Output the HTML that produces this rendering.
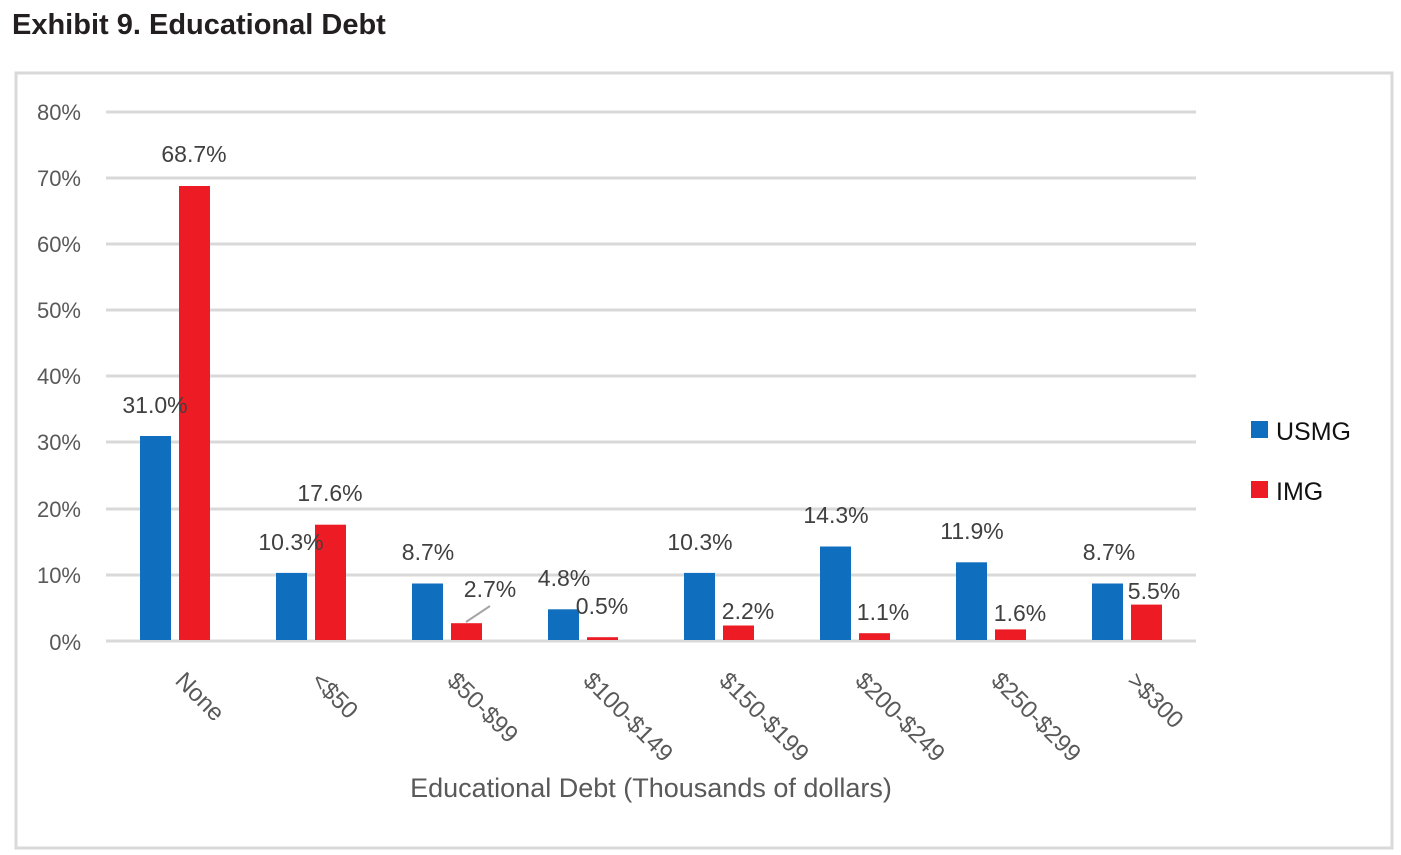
<!DOCTYPE html>
<html><head><meta charset="utf-8">
<style>
html,body{margin:0;padding:0;background:#fff;width:1401px;height:855px;overflow:hidden}
svg{display:block}
</style></head><body>
<svg width="1401" height="855" xmlns="http://www.w3.org/2000/svg" font-family="'Liberation Sans', sans-serif">
<text x="12" y="34" font-size="29" font-weight="bold" fill="#231f20">Exhibit 9. Educational Debt</text>
<rect x="16" y="73" width="1376" height="775" fill="none" stroke="#d9d9d9" stroke-width="3"/>
<g stroke="#d9d9d9" stroke-width="3">
<line x1="106" x2="1196" y1="112" y2="112"/>
<line x1="106" x2="1196" y1="178" y2="178"/>
<line x1="106" x2="1196" y1="244" y2="244"/>
<line x1="106" x2="1196" y1="310" y2="310"/>
<line x1="106" x2="1196" y1="376" y2="376"/>
<line x1="106" x2="1196" y1="442" y2="442"/>
<line x1="106" x2="1196" y1="509" y2="509"/>
<line x1="106" x2="1196" y1="575" y2="575"/>
<line x1="106" x2="1196" y1="641" y2="641"/>
</g>
<g font-size="22" fill="#595959" text-anchor="end">
<text x="81" y="120">80%</text>
<text x="81" y="186">70%</text>
<text x="81" y="252">60%</text>
<text x="81" y="318">50%</text>
<text x="81" y="384">40%</text>
<text x="81" y="450">30%</text>
<text x="81" y="517">20%</text>
<text x="81" y="583">10%</text>
<text x="81" y="650">0%</text>
</g>
<g fill="#106ebe">
<rect x="140" y="436" width="31" height="204"/>
<rect x="276" y="572.9" width="31" height="67.1"/>
<rect x="412" y="583.5" width="31" height="56.5"/>
<rect x="548" y="609.3" width="31" height="30.7"/>
<rect x="684" y="572.9" width="31" height="67.1"/>
<rect x="820" y="546.5" width="31" height="93.5"/>
<rect x="956" y="562.3" width="31" height="77.7"/>
<rect x="1092" y="583.5" width="31" height="56.5"/>
</g>
<g fill="#ed1c24">
<rect x="179" y="186" width="31" height="454"/>
<rect x="315" y="524.7" width="31" height="115.3"/>
<rect x="451" y="623.2" width="31" height="16.8"/>
<rect x="587" y="637.2" width="31" height="2.8"/>
<rect x="723" y="625.5" width="31" height="14.5"/>
<rect x="859" y="633.2" width="31" height="6.8"/>
<rect x="995" y="629.4" width="31" height="10.6"/>
<rect x="1131" y="604.6" width="31" height="35.4"/>
</g>
<line x1="466" y1="622" x2="490" y2="606" stroke="#a6a6a6" stroke-width="2"/>
<g font-size="23" fill="#404040" text-anchor="middle">
<text x="155" y="413">31.0%</text>
<text x="194" y="162">68.7%</text>
<text x="291" y="550">10.3%</text>
<text x="330" y="501">17.6%</text>
<text x="428" y="560">8.7%</text>
<text x="490" y="597">2.7%</text>
<text x="564" y="586">4.8%</text>
<text x="602" y="614">0.5%</text>
<text x="700" y="550">10.3%</text>
<text x="748" y="619">2.2%</text>
<text x="836" y="523">14.3%</text>
<text x="883" y="620">1.1%</text>
<text x="972" y="539">11.9%</text>
<text x="1020" y="621">1.6%</text>
<text x="1109" y="560">8.7%</text>
<text x="1154" y="599">5.5%</text>
</g>
<g font-size="24" fill="#595959">
<text transform="translate(174,682) rotate(45)">None</text>
<text transform="translate(310,682) rotate(45)">&lt;$50</text>
<text transform="translate(446,682) rotate(45)">$50-$99</text>
<text transform="translate(582,682) rotate(45)">$100-$149</text>
<text transform="translate(718,682) rotate(45)">$150-$199</text>
<text transform="translate(854,682) rotate(45)">$200-$249</text>
<text transform="translate(990,682) rotate(45)">$250-$299</text>
<text transform="translate(1126,682) rotate(45)">&gt;$300</text>
</g>
<text x="651" y="797" font-size="27" fill="#595959" text-anchor="middle">Educational Debt (Thousands of dollars)</text>
<rect x="1251" y="421" width="17" height="17" fill="#106ebe"/>
<text x="1276" y="440" font-size="25" fill="#111">USMG</text>
<rect x="1251" y="481" width="17" height="17" fill="#ed1c24"/>
<text x="1276" y="500" font-size="25" fill="#111">IMG</text>
</svg>
</body></html>
